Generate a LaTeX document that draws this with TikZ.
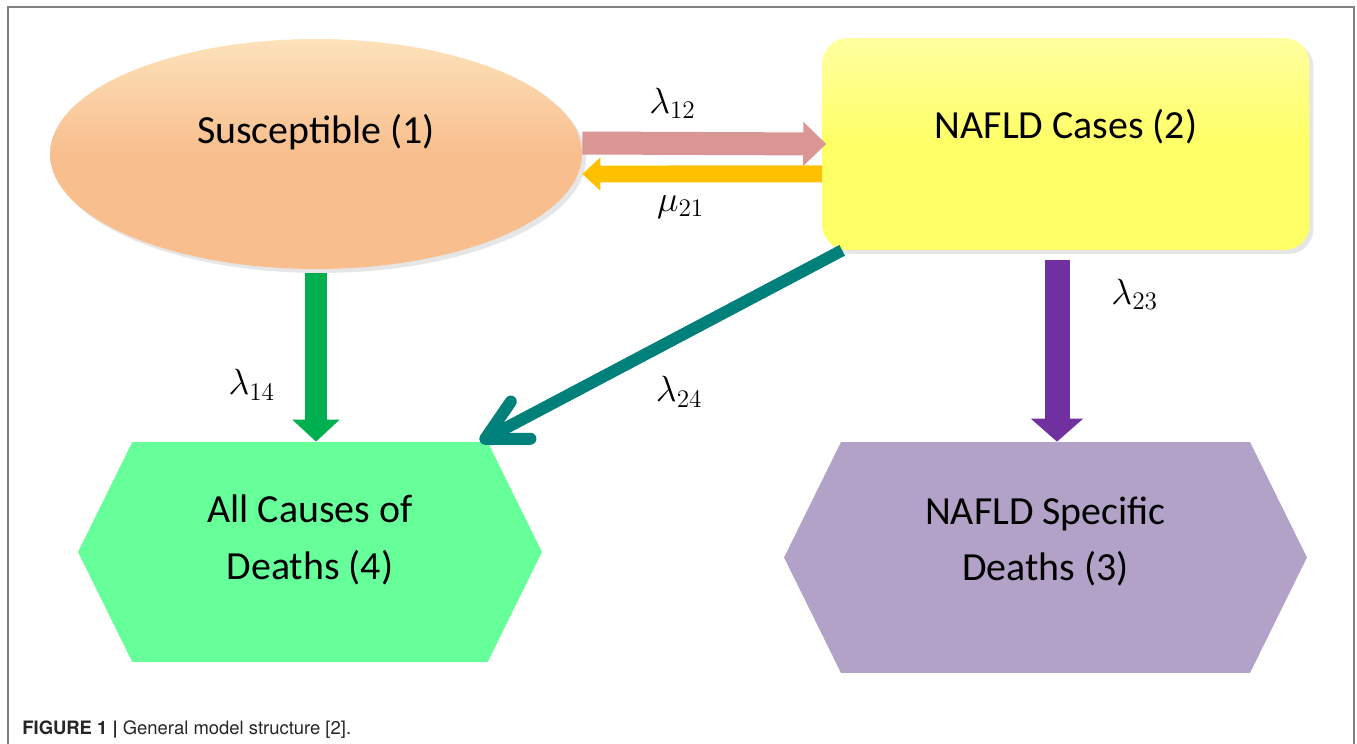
\documentclass[tikz,border=0pt]{standalone}
\usepackage{fontspec}
\setmainfont{Carlito}
\newfontfamily\capfont{TeX Gyre Heros}
\usetikzlibrary{arrows.meta,shapes.geometric,shapes.symbols,shadows}
\definecolor{peach}{RGB}{248,190,142}
\definecolor{peachtop}{RGB}{253,226,186}
\definecolor{lemon}{RGB}{255,255,102}
\definecolor{lemontop}{RGB}{255,255,160}
\definecolor{mint}{RGB}{102,255,153}
\definecolor{lilac}{RGB}{178,162,199}
\definecolor{rose}{RGB}{217,150,148}
\definecolor{amber}{RGB}{255,192,0}
\definecolor{leaf}{RGB}{0,176,80}
\definecolor{plum}{RGB}{112,48,160}
\definecolor{sea}{RGB}{0,128,122}
\definecolor{framegray}{RGB}{128,128,128}
\tikzset{
  compartment/.style={inner sep=0pt, drop shadow={opacity=0.2, shadow xshift=0.08cm, shadow yshift=-0.08cm}},
  hexa/.style={signal, signal to=west and east, signal pointer angle=127.5, inner sep=0pt},
  tag/.style={inner sep=0pt, align=center, font=\fontsize{22.7}{32}\selectfont},
  rate/.style={inner sep=0pt, text=black, font=\fontsize{22}{26}\selectfont},
}

\begin{document}
\begin{tikzpicture}[x=0.02cm, y=-0.02cm]
  \useasboundingbox (0,0) rectangle (1357,744);

  % Frame
  \draw[framegray, line width=1.1pt] (8,744) -- (8,7) -- (1354,7) -- (1354,744);

  % Compartments
  \node[compartment, ellipse, minimum width=10.64cm, minimum height=4.6cm,
        top color=peachtop, bottom color=peach, middle color=peach] (s1) at (316,154) {};
  \node[compartment, rounded corners=0.5cm, minimum width=9.74cm, minimum height=4.24cm,
        top color=lemontop, bottom color=lemon, middle color=lemon] (s2) at (1066,144) {};
  \node[hexa, fill=mint, minimum width=9.28cm, minimum height=4.4cm] (s4) at (310,552) {};
  \node[hexa, fill=lilac, minimum width=10.46cm, minimum height=4.62cm] (s3) at (1045.5,557.5) {};

  % Compartment names
  \node[tag] (t1) at ([yshift=0.44cm]s1.center) {Susceptible (1)};
  \node[tag] (t2) at ([yshift=0.34cm]s2.center) {NAFLD Cases (2)};
  \node[tag] (t4) at ([yshift=0.24cm]s4.center) {All Causes of\\Deaths (4)};
  \node[tag] (t3) at ([yshift=0.32cm]s3.center) {NAFLD Specific\\Deaths (3)};

  % Transitions
  \draw[rose, line width=0.46cm, -{Triangle[length=0.46cm, width=0.86cm]}]
    ([yshift=0.22cm]s1.east) -- ([xshift=0.08cm]s2.west) node[rate, pos=0.37, above=0.26cm] (l12) {$\lambda_{12}$};
  \draw[amber, line width=0.34cm, -{Triangle[length=0.36cm, width=0.64cm]}]
    ([yshift=-0.6cm]s2.west) -- ([yshift=-0.4cm]s1.east) node[rate, pos=0.59, below=0.26cm] (m21) {$\mu_{21}$};
  \draw[leaf, line width=0.44cm, -{Triangle[length=0.44cm, width=0.92cm]}, shorten <=0.08cm]
    (s1.south) -- (s1.south |- s4.north) node[rate, pos=0.67, left=0.6cm] (l14) {$\lambda_{14}$};
  \coordinate (d23) at ([xshift=-0.18cm]s2.south);
  \draw[plum, line width=0.5cm, -{Triangle[length=0.46cm, width=1.02cm]}, shorten <=0.2cm]
    (d23) -- (d23 |- s3.north) node[rate, pos=0.23, right=0.84cm] (l23) {$\lambda_{23}$};
  \draw[sea, line width=0.24cm, -{Straight Barb[length=0.8cm, width=0.84cm, round]}]
    ([xshift=0.4cm]s2.south west) -- ([xshift=3.4cm]s4.north) node[rate, pos=0.45, below=0.68cm] (l24) {$\lambda_{24}$};

  % Caption
  \node[anchor=base west, inner sep=0pt, font=\capfont\fontsize{10.5}{12}\selectfont, text=black!85]
    (cap) at (22,734) {\textbf{FIGURE 1 |} General model structure [2].};
\end{tikzpicture}
\end{document}
